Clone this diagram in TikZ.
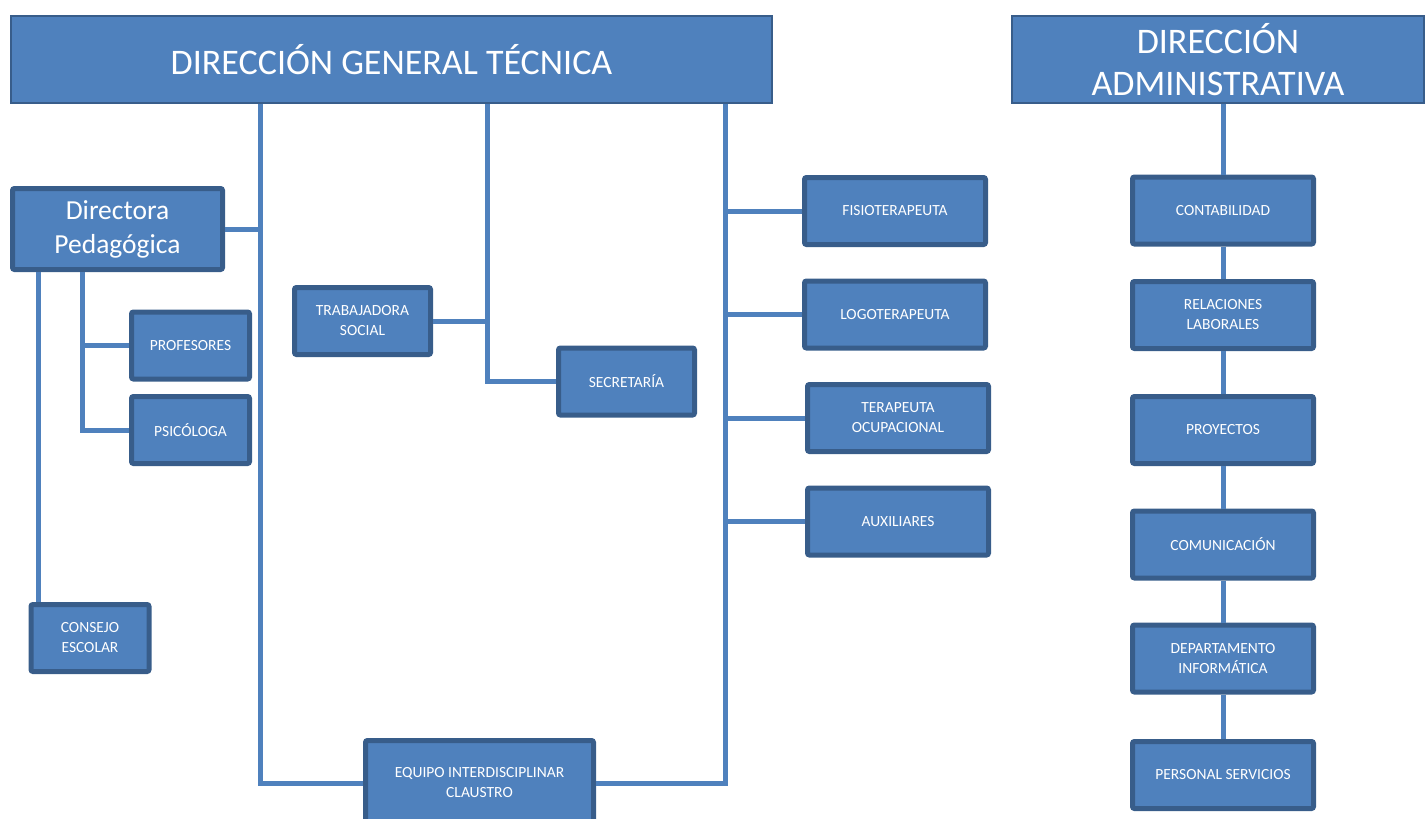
\documentclass[tikz,border=0pt]{standalone}
\usepackage{fontspec}
\setmainfont{Carlito}
\definecolor{boxfill}{HTML}{4F81BD}
\definecolor{boxline}{HTML}{385D8A}
\definecolor{linkblue}{HTML}{4F81BD}
\begin{document}
\begin{tikzpicture}[x=1pt, y=-1pt,
    head/.style = {draw=boxline, line width=2pt, fill=boxfill, text=white, align=center, inner sep=0pt, minimum height=87pt, font=\fontsize{36}{42}\selectfont},
    box/.style = {draw=boxline, line width=5pt, fill=boxfill, text=white, rounded corners=2pt, align=center, inner sep=0pt, minimum height=67pt, font=\fontsize{15.5}{20}\selectfont},
    wide/.style = {box, minimum width=181pt},
    mid/.style = {box, minimum width=136pt},
    small/.style = {box, minimum width=118pt},
    link/.style = {draw=linkblue, line width=5pt}]
    \clip (0,0) rectangle (1425,819);
    % direcciones
    \node[head, minimum width=761pt] (dgt) at (391.5,59.5) {DIRECCIÓN GENERAL TÉCNICA};
    \node[head, minimum width=412pt] (da) at (1218,59.5) {DIRECCIÓN\\ADMINISTRATIVA};
    % area tecnica
    \node[box, minimum width=210pt, minimum height=81pt, font=\fontsize{27.5}{34}\selectfont] (dp) at (117.5,229) {Directora\\Pedagógica};
    \node[small] (prof) at (190.5,345.5) {PROFESORES};
    \node[small] (psi) at (190.5,430) {PSICÓLOGA};
    \node[small] (cons) at (90,638) {CONSEJO\\ESCOLAR};
    \node[mid] (ts) at (362.5,321) {TRABAJADORA\\SOCIAL};
    \node[mid] (sec) at (626.5,381.5) {SECRETARÍA};
    \node[box, minimum width=228pt, minimum height=85pt] (eq) at (479.5,783) {EQUIPO INTERDISCIPLINAR\\CLAUSTRO};
    \node[wide] (fis) at (895,211) {FISIOTERAPEUTA};
    \node[wide] (log) at (895,314.5) {LOGOTERAPEUTA};
    \node[wide] (ter) at (898,418) {TERAPEUTA\\OCUPACIONAL};
    \node[wide] (aux) at (898,521.5) {AUXILIARES};
    % area administrativa
    \node[wide] (cont) at (1223,210.5) {CONTABILIDAD};
    \node[wide] (rel) at (1223,315) {RELACIONES\\LABORALES};
    \node[wide] (proy) at (1223,430) {PROYECTOS};
    \node[wide] (com) at (1223,544.5) {COMUNICACIÓN};
    \node[wide] (dep) at (1223,658.5) {DEPARTAMENTO\\INFORMÁTICA};
    \node[wide] (pers) at (1223,775) {PERSONAL SERVICIOS};
    % conexiones
    \coordinate (t1) at (260,104);
    \coordinate (t2) at (487,104);
    \coordinate (t3) at (725,104);
    \draw[link] (t1) |- (eq.west);
    \draw[link] (dp.east) -- (dp.east -| t1);
    \draw[link] (t2) |- (sec.west);
    \draw[link] (ts.east) -- (ts.east -| t2);
    \draw[link] (t3) |- (eq.east);
    \foreach \n in {fis,log,ter,aux}
        \draw[link] (\n.west) -- (\n.west -| t3);
    \draw[link] (dp.south -| 38,0) -- (cons.north -| 38,0);
    \draw[link] (dp.south -| 82,0) |- (psi.west);
    \draw[link] (prof.west) -- (prof.west -| 82,0);
    \draw[link] (da.south -| cont.north) -- (cont.north);
    \foreach \a/\b in {cont/rel,rel/proy,proy/com,com/dep,dep/pers}
        \draw[link] (\a.south) -- (\b.north);
\end{tikzpicture}
\end{document}
